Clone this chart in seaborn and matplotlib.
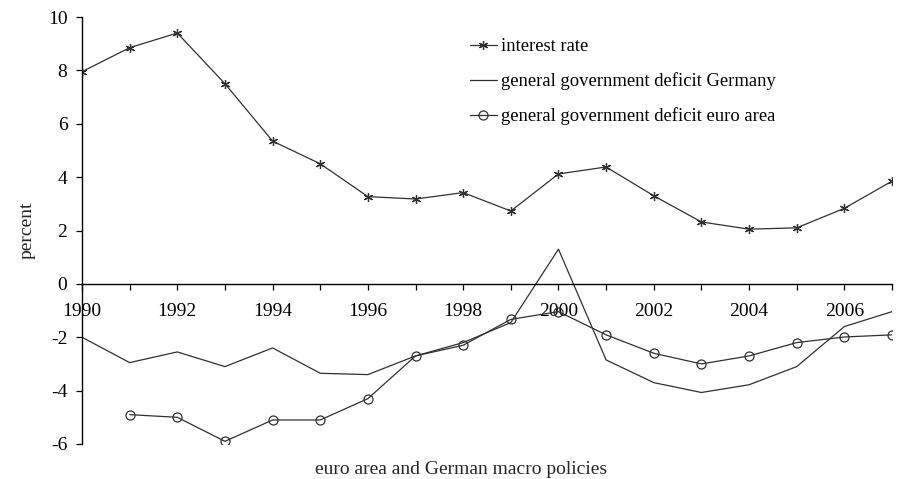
import numpy as np
import pandas as pd
import matplotlib
matplotlib.use("Agg")
import matplotlib.pyplot as plt
import seaborn as sns

sns.set_style("white")
plt.rcParams['font.family'] = ['Liberation Serif', 'DejaVu Serif']

years = list(range(1990, 2008))
interest_rate = [7.95, 8.85, 9.4, 7.5, 5.35, 4.5, 3.27, 3.18, 3.42, 2.73,
                 4.12, 4.38, 3.3, 2.32, 2.05, 2.1, 2.83, 3.85]
deficit_germany = [-2.0, -2.95, -2.55, -3.1, -2.4, -3.35, -3.4, -2.7, -2.2, -1.45,
                   1.3, -2.85, -3.7, -4.07, -3.78, -3.1, -1.6, -1.04]
deficit_euro = [np.nan, -4.9, -5.0, -5.9, -5.1, -5.1, -4.3, -2.7, -2.3, -1.33,
                -1.04, -1.91, -2.6, -3.0, -2.7, -2.2, -1.99, -1.91]

df = pd.DataFrame({"year": years, "interest": interest_rate,
                   "germany": deficit_germany, "euro": deficit_euro})

fig = plt.figure(figsize=(9, 4.79), dpi=100)
ax = fig.add_axes([82 / 900, 1 - 444 / 479, 810 / 900, 427 / 479])

col = "#303030"
fs = 14
sns.lineplot(data=df, x="year", y="interest", ax=ax, color=col, lw=0.9,
             marker=(6, 2, 0), markersize=6.5, markeredgewidth=0.9,
             markeredgecolor=col, label="interest rate")
sns.lineplot(data=df, x="year", y="germany", ax=ax, color=col, lw=0.9,
             label="general government deficit Germany")
sns.lineplot(data=df.dropna(), x="year", y="euro", ax=ax, color=col, lw=0.9,
             marker="o", markersize=6.5, markerfacecolor="none",
             markeredgecolor=col, markeredgewidth=0.9,
             label="general government deficit euro area")

ax.set_xlim(1990, 2007)
ax.set_ylim(-6, 10)
ax.spines["top"].set_visible(False)
ax.spines["right"].set_visible(False)
ax.spines["bottom"].set_position(("data", 0))
for s in ("left", "bottom"):
    ax.spines[s].set_color("black")
    ax.spines[s].set_linewidth(1.0)

ax.set_xticks(years)
ax.set_xticklabels([str(y) if y % 2 == 0 and y < 2007 else "" for y in years])
ax.set_yticks(range(-6, 11, 2))
ax.set_yticklabels([str(v) for v in range(-6, 11, 2)])
ax.tick_params(axis="both", which="major", direction="out", length=4.5,
               width=0.9, color="black", labelsize=fs, labelcolor="black")
ax.tick_params(axis="x", pad=9)
ax.tick_params(axis="y", pad=6)
ax.tick_params(left=True, bottom=True)

ax.set_xlabel("")
ax.set_ylabel("")
fig.text(27 / 900, 1 - 230 / 479, "percent", rotation=90, ha="center",
         va="center", fontsize=fs)
fig.text(461 / 900, 1 - 470 / 479, "euro area and German macro policies",
         ha="center", va="center", fontsize=fs)

leg = ax.legend(loc="upper left", bbox_to_anchor=(470 / 900, 1 - 38 / 479),
                bbox_transform=fig.transFigure, frameon=False, fontsize=13.4,
                handlelength=1.45, handletextpad=0.22, labelspacing=0.92,
                borderaxespad=0, borderpad=0)
for t in leg.get_texts():
    t.set_color("black")

fig.savefig("out.png", dpi=100)
